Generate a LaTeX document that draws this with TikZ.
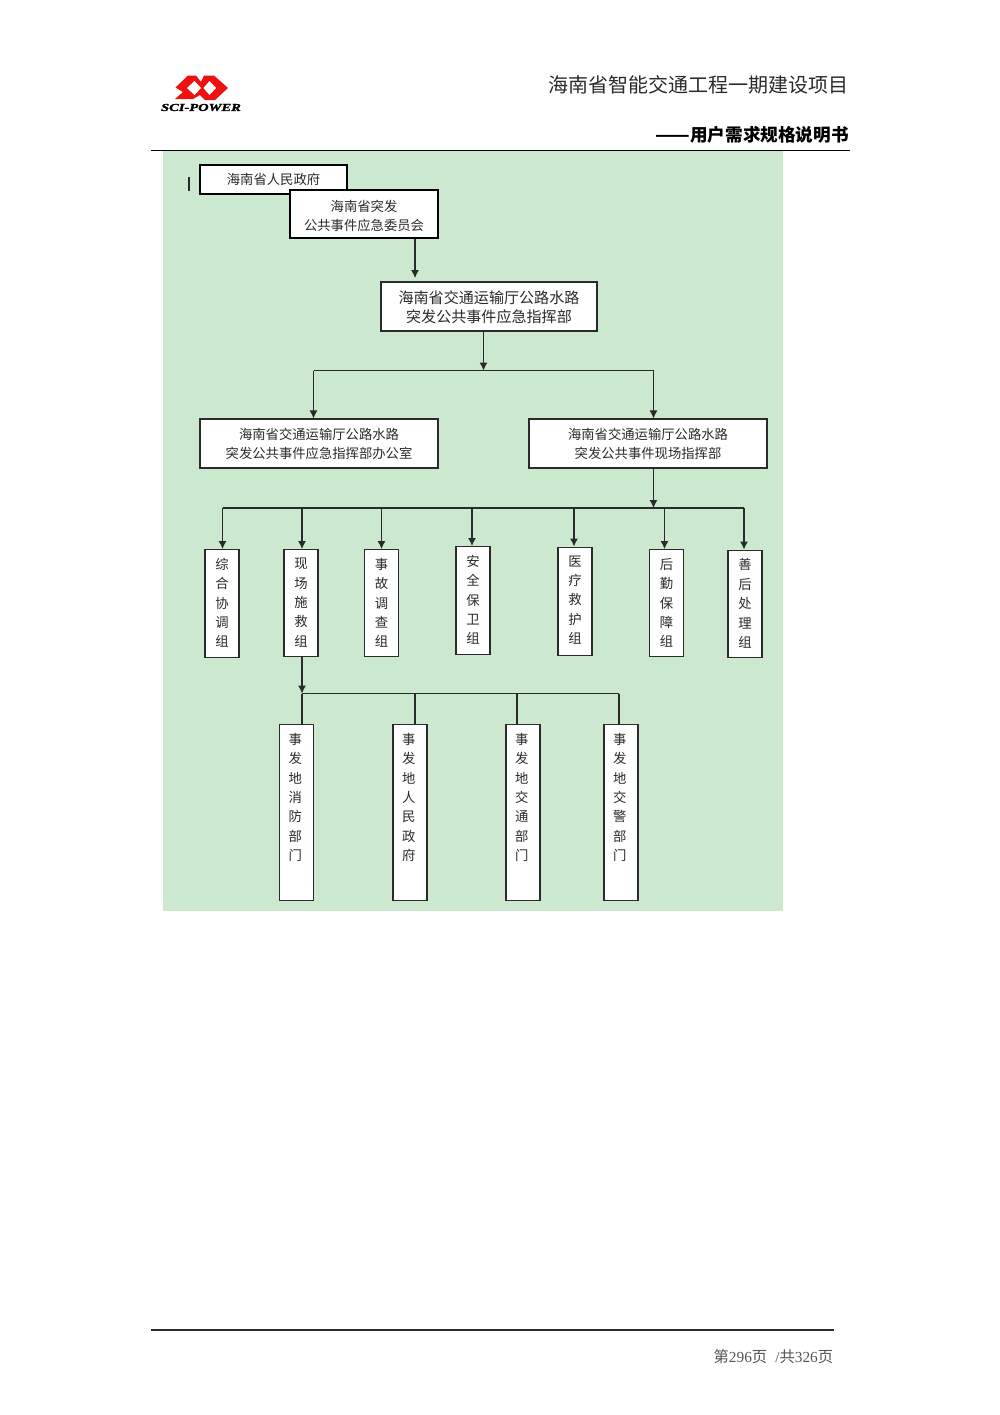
\documentclass[tikz,border=0pt]{standalone}
\usepackage{fontspec}
\setmainfont{Liberation Serif}
\newfontfamily\cjk{Noto Sans CJK SC}
\newfontfamily\logofont{Liberation Serif}[BoldItalicFeatures={FakeBold=1.5}]
\usetikzlibrary{arrows.meta}
\definecolor{panel}{HTML}{CCE8CF}
\definecolor{logored}{HTML}{EE1111}
\definecolor{ink}{HTML}{2A2A2A}
\newcommand{\vtxt}[2]{\parbox[t][\dimexpr #1pt*3/4\relax][t]{25.5pt}{\centering\baselineskip=14.55pt\vspace*{6.4pt}\cjk #2\par}}
\newcommand{\lines}[2]{\raisebox{#1}[\height][\depth]{\begin{tabular}{@{}c@{}}#2\end{tabular}}}
\tikzset{
  x=.75pt,y=-.75pt,
  sz/.style 2 args={minimum width=#1*.75pt,minimum height=#2*.75pt},
  box/.style={draw=ink,line width=.85pt,fill=white,inner sep=0pt,align=center,font=\cjk\fontsize{10}{14.3}\selectfont,text=ink},
  strong/.style={box,draw=black,line width=1.5pt},
  tall/.style={box,anchor=north},
  arr/.style={draw=ink,line width=.8pt,-{Latex[length=6pt,width=6pt]}},
  wire/.style={draw=ink,line width=.8pt},
  bus/.style={draw=ink,line width=1.1pt},
}
\begin{document}
\begin{tikzpicture}
\useasboundingbox (0,0) rectangle (1000,1415);
\fill[white] (0,0) rectangle (1000,1415);
\fill[panel] (163,151) rectangle (783,911);
\draw[black,line width=1.1pt] (151,150.5) -- (849.5,150.5);
\draw[ink,line width=1.1pt] (151,1330) -- (834,1330);
% logo
\fill[logored] (175,99) -- (183,92) -- (175.5,87.5) -- (188,75.5) -- (196,75.5) -- (201,82) -- (204,75.5) -- (214,75.5) -- (228,88) -- (215,100) -- (205,100) -- (200,95) -- (193,99) -- cycle;
\fill[white] (187,88) -- (194.5,81) -- (201,88) -- (194.5,95) -- cycle;
\fill[white] (203.5,88) -- (209.5,81) -- (216,88) -- (209.5,95) -- cycle;
\node[font=\logofont\bfseries\itshape\fontsize{8}{8}\selectfont,inner sep=0pt] (logotext) at (201,107.5) {\scalebox{1.36}[1]{SCI-POWER}};
% header
\node[anchor=east,inner sep=0pt,text=ink,font=\cjk\fontsize{15}{15}\selectfont] (title) at (849,85) {海南省智能交通工程一期建设项目};
\node[anchor=east,inner sep=0pt,text=black,font=\cjk\bfseries\fontsize{13.2}{13.2}\selectfont] (subtitle) at (849,134.5) {\scalebox{1.15}[1]{——}用户需求规格说明书};
\node[anchor=east,inner sep=0pt,text=ink!80,font=\fontsize{11.5}{11.5}\selectfont] (foot) at (833.5,1357) {{\cjk 第}296{\cjk 页}\hspace{6pt}/{\cjk 共}326{\cjk 页}};
\fill[ink] (188,177) rectangle (190.2,191);
% boxes
\node[strong,sz={147}{29}] (gov) at (273.5,179.5) {海南省人民政府};
\node[strong,sz={148}{48}] (cmte) at (364,214) {\lines{-2.2pt}{海南省突发\\公共事件应急委员会}};
\node[box,sz={216}{49},font=\cjk\fontsize{11.3}{14.3}\selectfont] (hq) at (489,306.5) {\lines{-2.2pt}{海南省交通运输厅公路水路\\突发公共事件应急指挥部}};
\node[box,sz={238}{49}] (office) at (319,443.5) {\lines{-1.4pt}{海南省交通运输厅公路水路\\突发公共事件应急指挥部办公室}};
\node[box,sz={238}{49}] (field) at (648,443.5) {\lines{-1.4pt}{海南省交通运输厅公路水路\\突发公共事件现场指挥部}};
% groups
\node[tall] (g1) at (222,549) {\vtxt{108}{综\\合\\协\\调\\组}};
\node[tall] (g2) at (301,549) {\vtxt{107}{现\\场\\施\\救\\组}};
\node[tall] (g3) at (381.5,549) {\vtxt{107}{事\\故\\调\\查\\组}};
\node[tall] (g4) at (473,546) {\vtxt{108}{安\\全\\保\\卫\\组}};
\node[tall] (g5) at (575,546.5) {\vtxt{108}{医\\疗\\救\\护\\组}};
\node[tall] (g6) at (666.5,549) {\vtxt{107}{后\\勤\\保\\障\\组}};
\node[tall] (g7) at (745,549.5) {\vtxt{107.5}{善\\后\\处\\理\\组}};
% departments
\node[tall] (d1) at (296.5,724) {\vtxt{176}{\hspace*{-2pt}事\\\hspace*{-2pt}发\\\hspace*{-2pt}地\\\hspace*{-2pt}消\\\hspace*{-2pt}防\\\hspace*{-2pt}部\\\hspace*{-2pt}门}};
\node[tall] (d2) at (410,724) {\vtxt{176}{\hspace*{-2pt}事\\\hspace*{-2pt}发\\\hspace*{-2pt}地\\\hspace*{-2pt}人\\\hspace*{-2pt}民\\\hspace*{-2pt}政\\\hspace*{-2pt}府}};
\node[tall] (d3) at (523,724) {\vtxt{176}{\hspace*{-2pt}事\\\hspace*{-2pt}发\\\hspace*{-2pt}地\\\hspace*{-2pt}交\\\hspace*{-2pt}通\\\hspace*{-2pt}部\\\hspace*{-2pt}门}};
\node[tall] (d4) at (621,724) {\vtxt{176}{\hspace*{-2pt}事\\\hspace*{-2pt}发\\\hspace*{-2pt}地\\\hspace*{-2pt}交\\\hspace*{-2pt}警\\\hspace*{-2pt}部\\\hspace*{-2pt}门}};
% junctions
\coordinate (c0) at (415,278);
\coordinate (j1) at (483.5,370.5);
\coordinate (j1l) at (313.5,370.5);
\coordinate (j1r) at (653.5,370.5);
\coordinate (j2) at (653.5,508);
\coordinate (b1) at (222.5,508);
\coordinate (b2) at (302,508);
\coordinate (b3) at (381.5,508);
\coordinate (b4) at (472,508);
\coordinate (b5) at (574,508);
\coordinate (b6) at (664.5,508);
\coordinate (b7) at (744,508);
\coordinate (j3) at (302,693.5);
\coordinate (e2) at (415,693.5);
\coordinate (e3) at (517,693.5);
\coordinate (e4) at (619,693.5);
% connectors
\draw[arr] (cmte.south -| c0) -- (c0);
\draw[arr] (hq.south -| j1) -- (j1);
\draw[wire] (j1l) -- (j1r);
\draw[arr] (j1l) -- (office.north -| j1l);
\draw[arr] (j1r) -- (field.north -| j1r);
\draw[arr] (field.south -| j2) -- (j2);
\draw[bus] (b1) -- (b7);
\draw[arr] (b1) -- (g1.north -| b1);
\draw[arr] (b2) -- (g2.north -| b2);
\draw[arr] (b3) -- (g3.north -| b3);
\draw[arr] (b4) -- (g4.north -| b4);
\draw[arr] (b5) -- (g5.north -| b5);
\draw[arr] (b6) -- (g6.north -| b6);
\draw[arr] (b7) -- (g7.north -| b7);
\draw[arr] (g2.south -| j3) -- (j3);
\draw[wire] (j3) -- (e4);
\draw[wire] (j3) -- (d1.north -| j3);
\draw[wire] (e2) -- (d2.north -| e2);
\draw[wire] (e3) -- (d3.north -| e3);
\draw[wire] (e4) -- (d4.north -| e4);
\end{tikzpicture}
\end{document}
